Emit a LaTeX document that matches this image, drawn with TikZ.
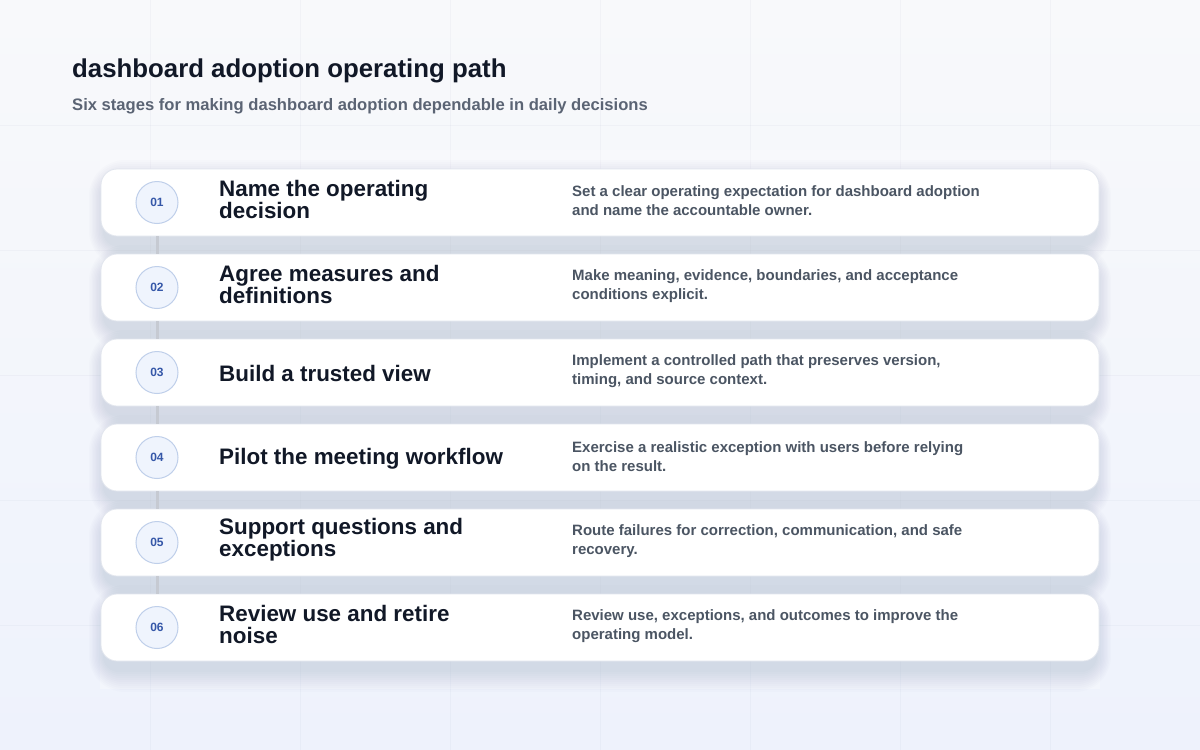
\documentclass[tikz,border=0pt]{standalone}
\usepackage{fontspec}
\setmainfont{Liberation Sans}
\usetikzlibrary{calc}
\definecolor{bgtop}{HTML}{F8F9FB}
\definecolor{bgbot}{HTML}{EEF2FC}
\definecolor{gridc}{HTML}{3A4A70}
\definecolor{ink}{HTML}{111827}
\definecolor{muted}{HTML}{4B5563}
\definecolor{subc}{HTML}{5B6474}
\definecolor{numtext}{HTML}{3557A8}
\definecolor{numfill}{HTML}{EFF4FD}
\definecolor{numline}{HTML}{BFCFEA}
\definecolor{connc}{HTML}{C6CAD2}
\definecolor{cardline}{HTML}{E2E6EE}
\definecolor{shadowc}{HTML}{2A3A66}
\tikzset{
  card/.style={draw=cardline, line width=0.8pt, fill=white, rounded corners=16pt,
    minimum width=998pt, minimum height=67pt, inner sep=0pt},
  num/.style={circle, draw=numline, line width=1pt, fill=numfill, minimum size=42pt,
    inner sep=0pt, font=\fontsize{12}{12}\selectfont\bfseries, text=numtext},
  ttl/.style={anchor=west, align=left, inner sep=0pt,
    font=\fontsize{22.4}{22}\selectfont\bfseries, text=ink},
  dsc/.style={anchor=west, align=left, inner sep=0pt,
    font=\fontsize{15}{19}\selectfont\bfseries, text=muted},
  conn/.style={draw=connc, line width=3pt},
  gridline/.style={draw=gridc, line width=0.8pt, opacity=0.035}
}
\begin{document}
\begin{tikzpicture}[x=1pt,y=-1pt]
\useasboundingbox (0,0) rectangle (1200,750);
\shade[top color=bgtop, bottom color=bgbot] (0,0) rectangle (1200,750);
\foreach \x in {150,300,...,1050} \draw[gridline] (\x,0) -- (\x,750);
\foreach \y in {125,250,...,625} \draw[gridline] (0,\y) -- (1200,\y);
\fill[white, opacity=0.25] (100,150) rectangle (1100,689);
% shadows
\foreach \k in {0,...,5} {
  \pgfmathsetmacro\ctop{169+85*\k}
  \foreach \e in {0,2,...,20} {
    \pgfmathsetmacro\rr{16+\e}
    \fill[shadowc, opacity=0.011, rounded corners=\rr pt]
      (103-0.7*\e, \ctop+11-\e) rectangle (1097+0.7*\e, \ctop+78+\e);
  }
}
% heading
\node[anchor=base west, inner sep=0pt, font=\fontsize{25.8}{28}\selectfont\bfseries, text=ink]
  (title) at (72,77) {dashboard adoption operating path};
\node[anchor=base west, inner sep=0pt, font=\fontsize{16.6}{19}\selectfont\bfseries, text=subc]
  (subtitle) at (72,110) {Six stages for making dashboard adoption dependable in daily decisions};
% cards
\node[card] (c1) at (600,202.5) {};
\node[card] (c2) at (600,287.5) {};
\node[card] (c3) at (600,372.5) {};
\node[card] (c4) at (600,457.5) {};
\node[card] (c5) at (600,542.5) {};
\node[card] (c6) at (600,627.5) {};
% numbers
\node[num] (n1) at (157,202.5) {01};
\node[num] (n2) at (157,287.5) {02};
\node[num] (n3) at (157,372.5) {03};
\node[num] (n4) at (157,457.5) {04};
\node[num] (n5) at (157,542.5) {05};
\node[num] (n6) at (157,627.5) {06};
% connectors
\draw[conn] (c1.south -| n1.center) -- (c2.north -| n2.center);
\draw[conn] (c2.south -| n2.center) -- (c3.north -| n3.center);
\draw[conn] (c3.south -| n3.center) -- (c4.north -| n4.center);
\draw[conn] (c4.south -| n4.center) -- (c5.north -| n5.center);
\draw[conn] (c5.south -| n5.center) -- (c6.north -| n6.center);
% titles
\node[ttl] (t1) at (219,199.5) {Name the operating\\decision};
\node[ttl] (t2) at (219,284.5) {Agree measures and\\definitions};
\node[ttl] (t3) at (219,373.5) {Build a trusted view};
\node[ttl] (t4) at (219,458.5) {Pilot the meeting workflow};
\node[ttl] (t5) at (219,539.5) {Support questions and\\exceptions};
\node[ttl] (t6) at (219,624.5) {Review use and retire\\noise};
% descriptions
\node[dsc] (d1) at (572,201) {Set a clear operating expectation for dashboard adoption\\and name the accountable owner.};
\node[dsc] (d2) at (572,286.5) {Make meaning, evidence, boundaries, and acceptance\\conditions explicit.};
\node[dsc] (d3) at (572,371.5) {Implement a controlled path that preserves version,\\timing, and source context.};
\node[dsc] (d4) at (572,456.5) {Exercise a realistic exception with users before relying\\on the result.};
\node[dsc] (d5) at (572,541.5) {Route failures for correction, communication, and safe\\recovery.};
\node[dsc] (d6) at (572,626.5) {Review use, exceptions, and outcomes to improve the\\operating model.};
\end{tikzpicture}
\end{document}
